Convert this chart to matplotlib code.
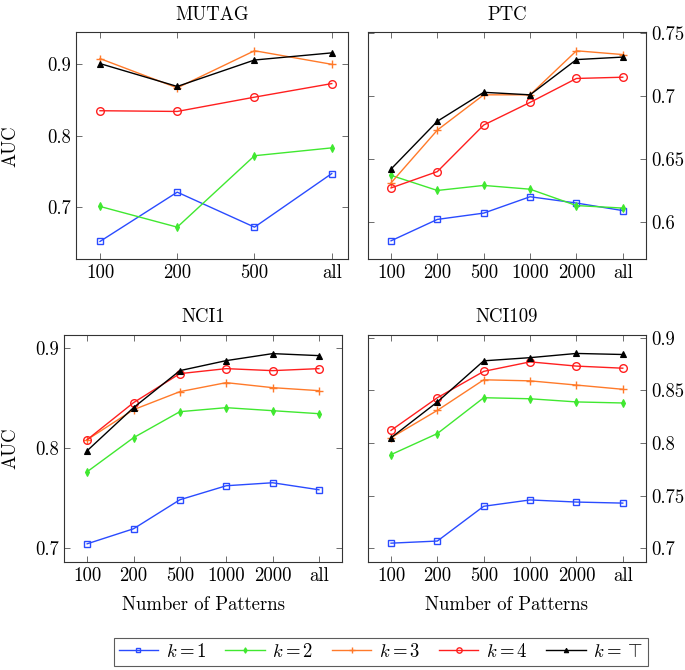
import matplotlib
matplotlib.use("Agg")
import matplotlib.pyplot as plt
from matplotlib.lines import Line2D

plt.rcParams['font.family'] = ['cmr10', 'DejaVu Serif']
plt.rcParams['mathtext.fontset'] = 'cm'
plt.rcParams['axes.formatter.use_mathtext'] = True

# ---------------- data ----------------
mutag_x = ["100", "200", "500", "all"]
mutag_k1 = [0.652, 0.721, 0.672, 0.747]
mutag_k2 = [0.701, 0.672, 0.772, 0.783]
mutag_k3 = [0.908, 0.867, 0.919, 0.900]
mutag_k4 = [0.835, 0.834, 0.854, 0.873]
mutag_kT = [0.901, 0.869, 0.906, 0.916]

ptc_x = ["100", "200", "500", "1000", "2000", "all"]
ptc_k1 = [0.585, 0.602, 0.607, 0.620, 0.615, 0.609]
ptc_k2 = [0.637, 0.625, 0.629, 0.626, 0.613, 0.611]
ptc_k3 = [0.631, 0.673, 0.701, 0.701, 0.736, 0.733]
ptc_k4 = [0.627, 0.640, 0.677, 0.695, 0.714, 0.715]
ptc_kT = [0.642, 0.680, 0.703, 0.701, 0.729, 0.731]

nci1_x = ["100", "200", "500", "1000", "2000", "all"]
nci1_k1 = [0.704, 0.719, 0.748, 0.762, 0.765, 0.758]
nci1_k2 = [0.776, 0.810, 0.836, 0.840, 0.837, 0.834]
nci1_k3 = [0.808, 0.838, 0.856, 0.865, 0.860, 0.857]
nci1_k4 = [0.808, 0.845, 0.874, 0.879, 0.877, 0.879]
nci1_kT = [0.797, 0.840, 0.877, 0.887, 0.894, 0.892]

nci109_x = ["100", "200", "500", "1000", "2000", "all"]
nci109_k1 = [0.705, 0.707, 0.740, 0.746, 0.744, 0.743]
nci109_k2 = [0.789, 0.809, 0.843, 0.842, 0.839, 0.838]
nci109_k3 = [0.805, 0.831, 0.860, 0.859, 0.855, 0.851]
nci109_k4 = [0.812, 0.843, 0.868, 0.877, 0.873, 0.871]
nci109_kT = [0.805, 0.839, 0.878, 0.881, 0.885, 0.884]

series_labels = [r"$k=1$", r"$k=2$", r"$k=3$", r"$k=4$", r"$k=\top$"]

# ---------------- styles ----------------
styles = [
    dict(color="#2a4bff", marker="s", mfc="none", ms=5, mew=1.0),
    dict(color="#40e830", marker="d", mfc="#40e830", ms=4, mew=0.8),
    dict(color="#ff7a2a", marker="+", ms=6, mew=1.0),
    dict(color="#ff1f1f", marker="o", mfc="none", ms=5.5, mew=1.0),
    dict(color="black", marker="^", mfc="black", ms=4.5, mew=0.8),
]

FS = 13.5
fig = plt.figure(figsize=(6.85, 6.70), dpi=100)

panels = [
    ("MUTAG", mutag_x, [mutag_k1, mutag_k2, mutag_k3, mutag_k4, mutag_kT],
     [0.111, 0.613, 0.397, 0.339], (0.627, 0.945), [0.7, 0.8, 0.9], "left", (-0.31, 3.21), False, -0.21),
    ("PTC", ptc_x, [ptc_k1, ptc_k2, ptc_k3, ptc_k4, ptc_kT],
     [0.537, 0.613, 0.406, 0.339], (0.5703, 0.7508), [0.6, 0.65, 0.7, 0.75], "right", (-0.5, 5.5), False, None),
    ("NCI1", nci1_x, [nci1_k1, nci1_k2, nci1_k3, nci1_k4, nci1_kT],
     [0.0934, 0.161, 0.406, 0.339], (0.6857, 0.9126), [0.7, 0.8, 0.9], "left", (-0.5, 5.5), True, -0.16),
    ("NCI109", nci109_x, [nci109_k1, nci109_k2, nci109_k3, nci109_k4, nci109_kT],
     [0.537, 0.161, 0.406, 0.339], (0.687, 0.9025), [0.7, 0.75, 0.8, 0.85, 0.9], "right", (-0.5, 5.5), True, None),
]

for title, xl, series, rect, ylim, yt, side, xlim, bottom, lx in panels:
    ax = fig.add_axes(rect)
    xs = list(range(len(xl)))
    for vals, st in zip(series, styles):
        ax.plot(xs, vals, lw=1.0, **st)
    ax.set_xlim(*xlim)
    ax.set_ylim(*ylim)
    ax.set_xticks(xs)
    ax.set_xticklabels(xl)
    ax.set_yticks(yt)
    ax.set_yticklabels([("%g" % v) for v in yt])
    ax.tick_params(direction="in", top=True, right=True, left=True, bottom=True,
                   labelsize=FS, length=4, width=0.6, color="#555555")
    if side == "right":
        ax.yaxis.tick_right()
        ax.tick_params(left=True, direction="in")
        ax.yaxis.set_label_position("right")
    else:
        ax.set_ylabel("AUC", fontsize=FS)
        ax.yaxis.set_label_coords(lx, 0.5)
    for sp in ax.spines.values():
        sp.set_linewidth(0.8)
        sp.set_color("#333333")
    ax.set_title(title, fontsize=FS, pad=9)
    if bottom:
        ax.set_xlabel("Number of Patterns", fontsize=FS, labelpad=8)

handles = [Line2D([0], [0], lw=1.0, **dict(st, ms=st["ms"] * 0.7)) for st in styles]
leg = fig.legend(handles, series_labels, loc="center", ncol=5,
                 bbox_to_anchor=(0.556, 0.027), fontsize=FS, frameon=True,
                 fancybox=False, edgecolor="#333333", handlelength=2.1,
                 columnspacing=1.0, handletextpad=0.4, borderpad=0.25)
leg.get_frame().set_linewidth(0.8)

fig.savefig("out.png", dpi=100)
